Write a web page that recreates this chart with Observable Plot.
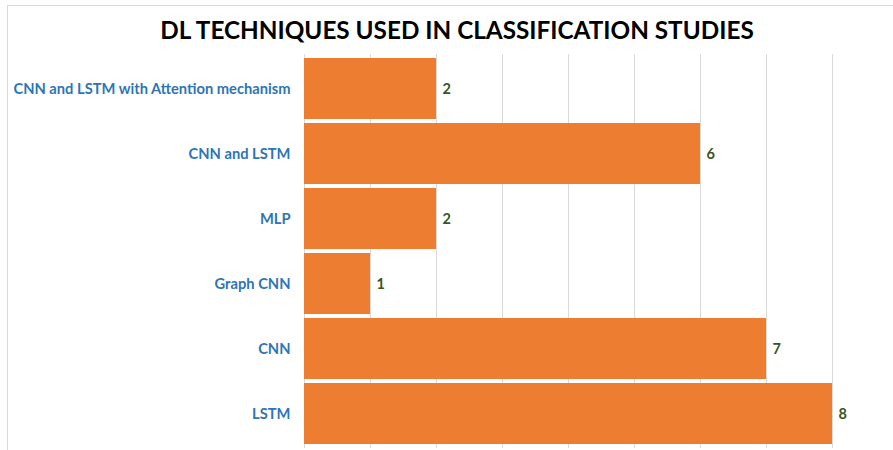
<!DOCTYPE html>
<html><head><meta charset="utf-8">
<script src="https://cdn.jsdelivr.net/npm/d3@7"></script>
<script src="https://cdn.jsdelivr.net/npm/@observablehq/plot@0.6"></script>
<style>
body{margin:0;background:#fff;overflow:hidden;width:893px;height:450px;position:relative;font-family:Lato,sans-serif}
#frame{position:absolute;left:7px;top:5px;width:1000px;height:600px;border-left:1px solid #d9d9d9;border-top:1px solid #d9d9d9}
#title{position:absolute;left:7px;top:15px;width:900px;text-align:center;font-size:24.3px;line-height:30px;font-weight:bold;color:#000}
#chart{position:absolute;left:0;top:50px}
</style></head>
<body>
<div id="frame"></div>
<div id="title">DL TECHNIQUES USED IN CLASSIFICATION STUDIES</div>
<div id="chart"></div>
<script>
const categories = ["CNN and LSTM with Attention mechanism","CNN and LSTM","MLP","Graph CNN","CNN","LSTM"];
const values = [2,6,2,1,7,8];
const xTicks = [0,1,2,3,4,5,6,7,8];
const data = categories.map((name,i)=>({name, value: values[i]}));
const chart = Plot.plot({
  width: 893, height: 400,
  marginTop: 4, marginBottom: 2, marginLeft: 304, marginRight: 0,
  style: {fontFamily: "Lato, sans-serif", background: "transparent", overflow: "visible"},
  x: {domain: [0, 9], range: [304, 898], axis: null},
  y: {domain: categories, padding: 0.06, axis: null},
  marks: [
    Plot.ruleX(xTicks, {stroke: "#d9d9d9", strokeWidth: 1}),
    Plot.barX(data, {x: "value", y: "name", fill: "#ED7D31"}),
    Plot.axisY({tickSize: 0, tickPadding: 14, fill: "#2E75B6", fontSize: 14.7, fontWeight: "bold", label: null}),
    Plot.text(data, {x: "value", y: "name", text: d => String(d.value), dx: 6, textAnchor: "start", fill: "#375623", fontSize: 14.5, fontWeight: "bold"})
  ]
});
document.getElementById("chart").appendChild(chart);
</script>
</body></html>
